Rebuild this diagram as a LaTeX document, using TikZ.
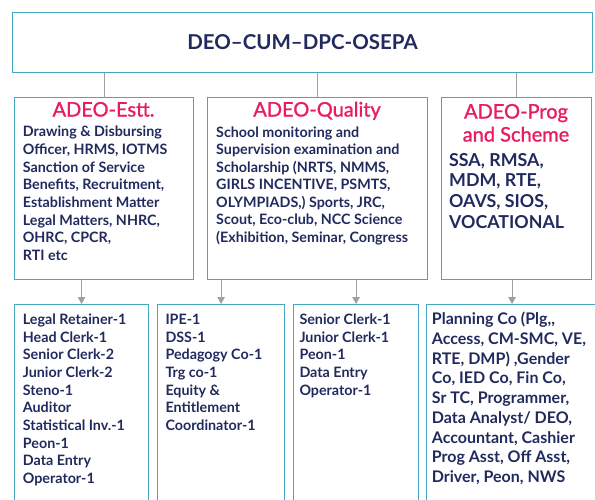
\documentclass[tikz,border=0pt]{standalone}
\usepackage{fontspec}
\setmainfont{Lato}
\newfontfamily\headfont[FakeBold=1.2]{Lato}
\usepackage{tikz}
\usetikzlibrary{arrows.meta}

\definecolor{boxteal}{RGB}{70,168,192}
\definecolor{navy}{RGB}{33,42,94}
\definecolor{headpink}{RGB}{232,28,94}
\definecolor{conngray}{RGB}{160,160,160}

\tikzset{
  box/.style={draw=boxteal, line width=1.1pt, anchor=north west, inner sep=0pt},
  head/.style={text=headpink, font=\headfont\fontsize{20}{23}\selectfont, align=center, anchor=base, inner sep=0pt},
  body/.style={text=navy, font=\fontsize{14.3}{17.7}\selectfont\bfseries, align=left, anchor=base west, inner sep=0pt},
  conn/.style={draw=conngray, line width=0.9pt}
}

\begin{document}
\begin{tikzpicture}[x=1pt, y=-1pt, >={Triangle[length=7pt,width=7.5pt]}]
        \useasboundingbox (0,0) rectangle (595,499);
        \clip (0,0) rectangle (595,499);

        % UST KUTU
        \node[box, minimum width=580pt, minimum height=60pt, text=navy, font=\fontsize{20.5}{24}\selectfont\bfseries] (deo) at (12,12) {DEO--CUM--DPC-OSEPA};

        % ORTA KUTULAR
        \node[box, minimum width=179pt, minimum height=182pt] (estt) at (14,97) {};
        \node[box, minimum width=220pt, minimum height=182pt] (quality) at (207,97) {};
        \node[box, minimum width=150pt, minimum height=182pt] (prog) at (441,97) {};

        % basliklar (anchor=base -> son satirin tabani)
        \node[head] (estt_head) at (103.5,116.5) {ADEO-Estt.};
        \node[head] (quality_head) at (317,116.5) {ADEO-Quality};
        \node[head] (prog_head) at (516,141.5) {ADEO-Prog\\and Scheme};

        \node[body] (estt_text) at (22.7,260.6) {Drawing \& Disbursing\\Officer, HRMS, IOTMS\\Sanction of Service\\Benefits, Recruitment,\\Establishment Matter\\Legal Matters, NHRC,\\OHRC, CPCR,\\RTI etc};
        \node[body, font=\fontsize{14.3}{17.5}\selectfont\bfseries] (quality_text) at (216,242) {School monitoring and\\Supervision examination and\\Scholarship (NRTS, NMMS,\\GIRLS INCENTIVE, PSMTS,\\OLYMPIADS,) Sports, JRC,\\Scout, Eco-club, NCC Science\\(Exhibition, Seminar, Congress};
        \node[body, font=\fontsize{17.8}{20.6}\selectfont\bfseries] (prog_text) at (449,228.1) {SSA, RMSA,\\MDM, RTE,\\OAVS, SIOS,\\VOCATIONAL};

        % ALT KUTULAR
        \node[box, minimum width=134pt, minimum height=220pt] (estt_staff) at (14,304) {};
        \node[box, minimum width=127pt, minimum height=220pt] (qual_staff) at (157,304) {};
        \node[box, minimum width=125pt, minimum height=220pt] (qual_clerks) at (293,304) {};
        \node[box, minimum width=171pt, minimum height=220pt] (prog_staff) at (426,304) {};

        \node[body] (estt_staff_text) at (22.7,483.6) {Legal Retainer-1\\Head Clerk-1\\Senior Clerk-2\\Junior Clerk-2\\Steno-1\\Auditor\\Statistical Inv.-1\\Peon-1\\Data Entry\\Operator-1};
        \node[body] (qual_staff_text) at (165.3,430.5) {IPE-1\\DSS-1\\Pedagogy Co-1\\Trg co-1\\Equity \&\\Entitlement\\Coordinator-1};
        \node[body] (qual_clerks_text) at (299.3,395.1) {Senior Clerk-1\\Junior Clerk-1\\Peon-1\\Data Entry\\Operator-1};
        \node[body, font=\fontsize{16}{19.7}\selectfont\bfseries] (prog_staff_text) at (431.7,482.4) {Planning Co (Plg{,}{,}\\Access, CM-SMC, VE,\\RTE, DMP) ,Gender\\Co, IED Co, Fin Co,\\Sr TC, Programmer,\\Data Analyst/ DEO,\\Accountant, Cashier\\Prog Asst, Off Asst,\\Driver, Peon, NWS};

        % Baglantilar
        \draw[conn] (estt.north) -- (estt.north |- deo.south);
        \draw[conn] (quality.north) -- (quality.north |- deo.south);
        \draw[conn] (prog.north) -- (prog.north |- deo.south);

        % Oklar
        \draw[conn, ->, conngray] (estt_staff.north |- estt.south) -- (estt_staff.north);
        \draw[conn, ->, conngray] (qual_staff.north |- quality.south) -- (qual_staff.north);
        \draw[conn, ->, conngray] (qual_clerks.north |- quality.south) -- (qual_clerks.north);
        \draw[conn, ->, conngray] (prog_staff.north |- prog.south) -- (prog_staff.north);
    \end{tikzpicture}
\end{document}
